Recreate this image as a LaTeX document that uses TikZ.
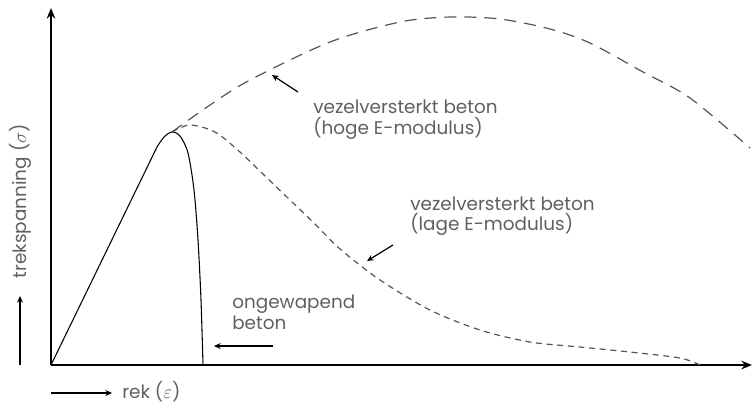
\documentclass[tikz,border=0pt]{standalone}
\usepackage{fontspec}
\setmainfont{Poppins}
\usetikzlibrary{arrows.meta}
\definecolor{labelgray}{HTML}{606060}
\definecolor{curvegray}{HTML}{555555}

\begin{document}
\begin{tikzpicture}[x=0.75pt, y=-0.75pt,
    every node/.style={font=\fontsize{13.8}{15.5}\selectfont, text=labelgray, inner sep=0pt, align=left},
    axis/.style={line width=1.4pt, -{Stealth[length=8pt,width=6.5pt]}},
    pointer/.style={line width=0.9pt, -{Stealth[length=5pt,width=4.5pt]}},
    highdash/.style={curvegray, line width=0.9pt, dash pattern=on 9pt off 6pt},
    lowdash/.style={curvegray, line width=0.9pt, dash pattern=on 4.5pt off 3.5pt}]
    \useasboundingbox (0,0) rectangle (753,405);

    \coordinate (O) at (51,365);
    \coordinate (ytop) at (51,8);
    \coordinate (xend) at (752,365);
    \coordinate (peak) at (172,132);

    \draw[axis] (O) -- (ytop);
    \draw[axis] (O) -- (xend);

    \draw[line width=0.8pt] (O) -- (157,147)
        plot[smooth] coordinates {(157,147) (164,137) (172,132) (180,136) (188,153) (194,190) (198,240) (201,300) (203,365)};

    \draw[highdash] plot[smooth] coordinates {(peak) (210,105) (250,80) (330,42) (400,22) (450,17) (500,19) (550,29) (590,43) (643,72) (690,98) (750,148)};
    \draw[lowdash] plot[smooth] coordinates {(peak) (190,125) (215,132) (240,152) (265,176) (290,200) (315,224) (340,249) (380,280) (430,310) (480,330) (530,342) (580,347) (630,352) (680,358) (700,365)};

    \node[anchor=west] (hoge) at (313,120) {vezelversterkt beton\\(hoge E-modulus)};
    \node[anchor=west] (lage) at (410,216) {vezelversterkt beton\\(lage E-modulus)};
    \node[anchor=west] (plain) at (232,312) {ongewapend\\beton};

    \coordinate (hogetail) at (298,92);
    \coordinate (hogehead) at (272,75);
    \coordinate (lagetail) at (393,245);
    \coordinate (lagehead) at (367,261);
    \coordinate (plaintail) at (273,346);
    \coordinate (plainhead) at (214,346);
    \draw[pointer] (hogetail) -- (hogehead);
    \draw[pointer] (lagetail) -- (lagehead);
    \draw[pointer] (plaintail) -- (plainhead);

    \node[rotate=90] (ylabel) at (20,201) {trekspanning ($\sigma$)};
    \coordinate (yarrowfoot) at (20,365);
    \coordinate (yarrowtip) at (20,296);
    \draw[pointer] (yarrowfoot) -- (yarrowtip);

    \node[anchor=west] (xlabel) at (122,392) {rek ($\varepsilon$)};
    \coordinate (xarrowfoot) at (51,393);
    \coordinate (xarrowtip) at (112,393);
    \draw[pointer] (xarrowfoot) -- (xarrowtip);
\end{tikzpicture}
\end{document}
